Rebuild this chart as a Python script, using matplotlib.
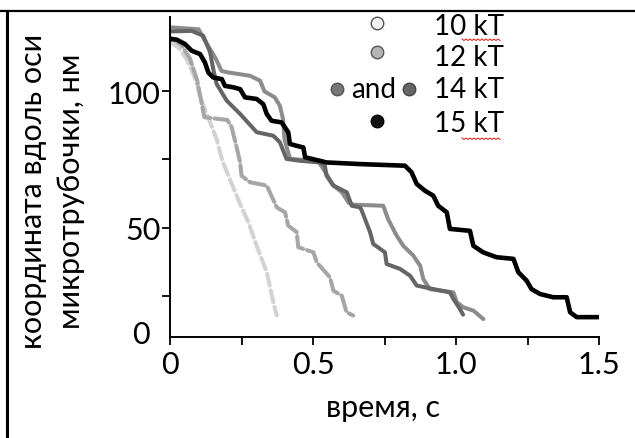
import matplotlib
matplotlib.use("Agg")
import matplotlib.pyplot as plt
from matplotlib.lines import Line2D
import numpy as np

plt.rcParams['font.family'] = ['Lato', 'Open Sans', 'DejaVu Sans']

# ---- data (time, s ; coordinate, nm) ----
t10 = [0.0, 0.03, 0.058, 0.076, 0.093, 0.105, 0.135, 0.163, 0.181, 0.204, 0.245, 0.274, 0.303, 0.338, 0.361, 0.373]
v10 = [118, 116, 111.9, 107.6, 103.3, 97.8, 90, 82.5, 75.2, 69, 58.6, 51.9, 43.3, 33.6, 22.6, 17.7]

t12 = [0.0, 0.04, 0.07, 0.095, 0.11, 0.12, 0.2, 0.215, 0.233, 0.245, 0.25, 0.28, 0.338, 0.349, 0.373,
       0.402, 0.413, 0.443, 0.448, 0.501, 0.513, 0.559, 0.571, 0.6, 0.617, 0.64]
v12 = [120, 117, 112, 104, 96, 90.5, 89.5, 87, 79.4, 73.9, 69, 66.6, 65.4, 62.9, 57.4,
       55.6, 50.7, 48.3, 42.8, 40.9, 37.2, 31.7, 26.8, 25, 18.9, 17.7]

t14a = [0, 0.1, 0.12, 0.14, 0.16, 0.18, 0.2, 0.28, 0.315, 0.33, 0.366, 0.384, 0.395, 0.4, 0.413, 0.42,
        0.47, 0.52, 0.545, 0.57, 0.6, 0.625, 0.64, 0.745, 0.762, 0.792, 0.815, 0.85, 0.874, 0.885,
        0.908, 0.99, 1.002, 1.025, 1.06, 1.095]
v14a = [123.5, 122.8, 119, 115.5, 112, 107.5, 107, 105.7, 103.9, 100, 97.8, 94.7, 89.8, 82.5, 77.6, 75.2,
        74.8, 74, 70, 65.5, 63, 59, 58.4, 58, 53.1, 47, 43.3, 39.7, 36, 31.1,
        27.4, 26.2, 22.6, 20.7, 19.5, 16.4]

t14b = [0, 0.076, 0.116, 0.14, 0.151, 0.163, 0.198, 0.245, 0.303, 0.361, 0.384, 0.407, 0.454, 0.524,
        0.541, 0.547, 0.571, 0.618, 0.635, 0.664, 0.67, 0.699, 0.71, 0.751, 0.757, 0.804, 0.839,
        0.862, 0.92, 0.978, 0.99, 1.013, 1.024]
v14b = [122, 122.2, 120.4, 114.4, 108.2, 102.7, 96.6, 91.7, 85, 83.7, 81.3, 75.2, 74.5, 73.9,
        72.7, 69, 65.4, 62.9, 58, 57.4, 56.2, 48.3, 44, 40.9, 36.6, 34.8, 32.3,
        28.7, 27.4, 26.2, 23.8, 20.1, 18]

t15 = [0.0, 0.023, 0.052, 0.076, 0.105, 0.122, 0.134, 0.151, 0.181, 0.192, 0.221, 0.245, 0.262, 0.303,
       0.326, 0.338, 0.355, 0.39, 0.413, 0.419, 0.443, 0.466, 0.472, 0.524, 0.547, 0.664, 0.821,
       0.844, 0.862, 0.891, 0.92, 0.937, 0.967, 0.978, 1.048, 1.06, 1.094, 1.141, 1.2, 1.217,
       1.246, 1.263, 1.293, 1.339, 1.386, 1.398, 1.421, 1.497]
v15 = [119.2, 119.0, 117.4, 114.9, 113.7, 110.6, 106.9, 105.1, 104.5, 102, 101.5, 100.8, 97.8, 97.2,
       95.3, 91.7, 89.2, 88.6, 85, 80.7, 80, 79.4, 75.8, 74.5, 73.9, 73.3, 72.7,
       70.3, 66, 63.5, 61.7, 58, 55.6, 49.5, 48.8, 43.3, 40.9, 39.1, 38.5, 33.6,
       30.5, 27.4, 25.6, 24.4, 24.4, 18.9, 17.1, 17.1]

legend_labels = ["10 kT", "12 kT", "14 kT", "15 kT"]
xticks = [0, 0.5, 1.0, 1.5]
xticklabels = ["0", "0.5", "1.0", "1.5"]
yticks = [25, 50, 75, 100]
yticklabels = ["", "50", "", "100"]

W, H = 635, 439
fig = plt.figure(figsize=(W / 100, H / 100), dpi=100)
ax = fig.add_axes([170 / W, 1 - 338.3 / H, (599.3 - 170) / W, (338.3 - 18) / H])

c10, c12, c14a, c14b, c15 = "#d2d2d2", "#a6a6a6", "#8c8c8c", "#656565", "#000000"
lw = 2.9
ax.plot(t10, v10, color=c10, lw=lw, dashes=(3, 1.2), dash_capstyle='round')
ax.plot(t12, v12, color=c12, lw=lw, dashes=(4, 1.0), dash_capstyle='round')
ax.plot(t14a, v14a, color=c14a, lw=lw, solid_capstyle='round')
ax.plot(t14b, v14b, color=c14b, lw=lw, solid_capstyle='round')
ax.plot(t15, v15, color=c15, lw=lw + 0.4, solid_capstyle='round')

ax.set_xlim(0, 1.5)
ax.set_ylim(9.7, 127.3)
ax.set_xticks(xticks)
ax.set_xticklabels(xticklabels)
ax.set_xticks([0.25, 0.75, 1.25], minor=True)
ax.set_yticks(yticks)
ax.set_yticklabels(yticklabels)
for s in ["top", "right"]:
    ax.spines[s].set_visible(False)
for s in ["left", "bottom"]:
    ax.spines[s].set_linewidth(1.4)
ax.tick_params(which='both', direction='out', length=6, width=1.3, labelsize=22, colors='black')
ax.tick_params(axis='x', pad=3)
ax.tick_params(axis='y', pad=1)

# bottom "0" label of the y axis
fig.text(150 / W, 1 - 335 / H, "0", fontsize=22, ha='right', va='center')

# axis titles
fig.text(383 / W, 1 - 408 / H, "время, с", fontsize=22, ha='center', va='center')
fig.text(52 / W, 1 - 191 / H, "координата вдоль оси\nмикротрубочки, нм", fontsize=22,
         rotation=90, ha='center', va='center', multialignment='center', linespacing=1.45)

# legend
ys = [24, 53.3, 90, 121.7]
ty = [26.7, 58.3, 90, 124]
fig.add_artist(Line2D([376.7 / W], [1 - ys[0] / H], marker='o', ms=9, mfc='#f2f2f2', mec='#555555', mew=1, lw=0))
fig.add_artist(Line2D([376.7 / W], [1 - ys[1] / H], marker='o', ms=9, mfc='#b4b4b4', mec='#555555', mew=1, lw=0))
fig.add_artist(Line2D([336.7 / W], [1 - ys[2] / H], marker='o', ms=9, mfc='#777777', mec='#555555', mew=1, lw=0))
fig.add_artist(Line2D([409.3 / W], [1 - ys[2] / H], marker='o', ms=9, mfc='#666666', mec='#444444', mew=1, lw=0))
fig.add_artist(Line2D([376.7 / W], [1 - ys[3] / H], marker='o', ms=9, mfc='#111111', mec='#000000', mew=1, lw=0))
fig.text(374 / W, 1 - 90 / H, "and", fontsize=20, ha='center', va='center')
for lab, y in zip(legend_labels, ty):
    fig.text(434 / W, 1 - y / H, lab, fontsize=20, ha='left', va='center')

# red spell-check squiggles under "kT"
for y in [40, 139]:
    xs = np.arange(462, 501, 2.0)
    yy = y + np.where(np.arange(len(xs)) % 2 == 0, 0, 1.5)
    fig.add_artist(Line2D(xs / W, 1 - yy / H, color='#e03030', lw=0.8))

# figure frame lines (top and left)
fig.add_artist(Line2D([0, 1], [1 - 12 / H, 1 - 12 / H], color='black', lw=1.6))
fig.add_artist(Line2D([7 / W, 7 / W], [0, 1 - 12 / H], color='black', lw=2.2))

fig.savefig("out.png", dpi=100)
